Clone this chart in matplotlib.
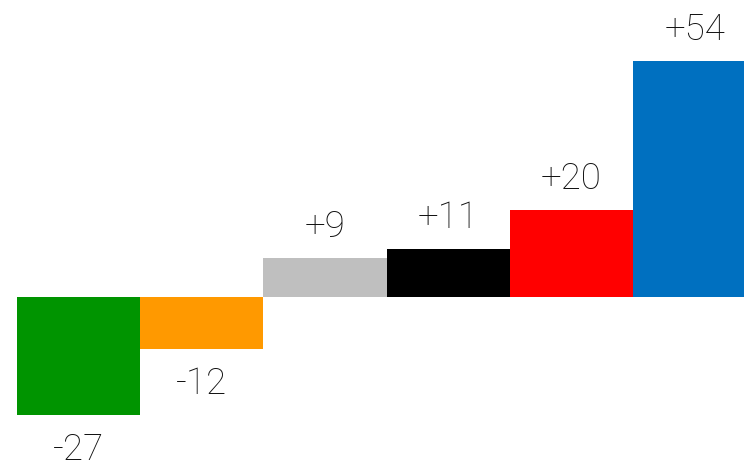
import matplotlib
matplotlib.use("Agg")
import matplotlib.pyplot as plt

categories = ["A", "B", "C", "D", "E", "F"]
values = [-27, -12, 9, 11, 20, 54]
labels = ["-27", "-12", "+9", "+11", "+20", "+54"]
colors = ["#009400", "#ff9900", "#bfbfbf", "#000000", "#ff0000", "#0070c0"]

W, H = 744, 461
fig = plt.figure(figsize=(W / 100, H / 100), dpi=100)
ax = fig.add_axes([17 / W, 0, 1 - 17 / W, 1])

x = list(range(len(values)))
ax.bar(x, values, width=1.0, color=colors, align="center")

scale = 4.37  # px per unit
ax.set_xlim(-0.5, 5.4)
ax.set_ylim(-(H - 297) / scale, 297 / scale)
ax.axis("off")

for xi, v, lab in zip(x, values, labels):
    off = 21 if v > 0 else -45
    ax.annotate(lab, (xi, v), xytext=(0, off * 0.72), textcoords="offset points",
                ha="center", va="baseline", fontsize=26.5,
                family="Roboto", fontweight="light", color="#111111")

fig.savefig("out.png", dpi=100)
